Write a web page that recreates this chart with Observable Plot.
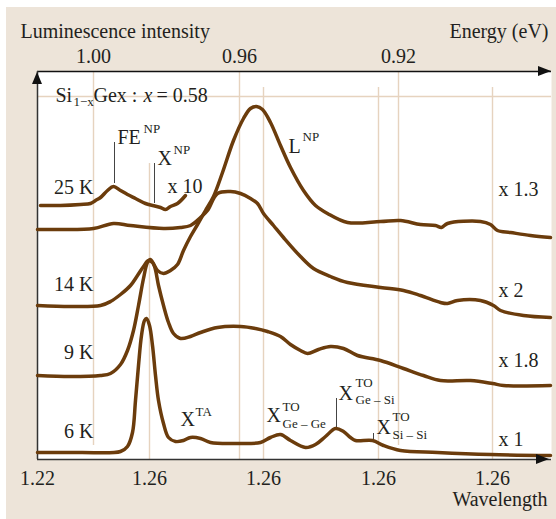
<!DOCTYPE html>
<html><head><meta charset="utf-8">
<script src="https://cdn.jsdelivr.net/npm/d3@7"></script>
<script src="https://cdn.jsdelivr.net/npm/@observablehq/plot@0.6"></script>
<style>
body{margin:0;background:#fff;}
#wrap{position:relative;width:556px;height:519px;overflow:hidden;}
#bg{position:absolute;left:6px;top:7px;width:550px;height:512px;background:#ede4d9;}
#chart{position:absolute;left:0;top:0;}
#chart svg text{font-family:"Liberation Serif","Times New Roman",serif !important;}
</style></head><body>
<div id="wrap"><div id="bg"></div><div id="chart"></div></div>
<script>
// Wavelength channel (arbitrary units) and luminescence intensity (arb. units)
const x6K  = [0,43,83,90,95,98,101,104,107,109,112,115,118,121,126,131,138,146,153,163,173,198,223,233,243,253,268,278,288,298,306,313,318,335,346,363,400,453,513];
const y6K  = [7,7,8,13,27,59,94,124,139,141,134,114,84,59,36,22,18,19,22,21,17,16,17,22,25,19,12,15,23,31,28,22,19,19,14,9,7,5,4];
const x9K  = [0,33,63,73,83,90,96,101,106,110,113,117,121,126,131,136,143,153,163,180,203,218,230,243,253,263,270,281,293,306,320,343,366,386,403,433,455,466,513];
const y9K  = [84,83,84,86,95,109,129,154,181,197,200,193,174,154,137,126,121,123,127,132,133,131,128,123,115,109,106,110,113,111,104,99,91,84,79,79,76,74,74];
const x14K = [0,33,63,73,83,93,100,106,111,115,120,126,133,140,146,153,160,168,176,185,196,206,213,219,225,233,243,253,266,278,290,310,343,363,383,398,404,410,443,453,460,473,493,513];
const y14K = [154,153,154,158,165,174,184,193,199,197,189,186,189,195,209,223,235,249,263,287,319,341,351,353,350,337,314,292,269,254,246,237,238,239,235,234,232,236,238,235,229,227,224,222];
const x25K = [0,23,56,76,93,126,143,153,163,170,180,193,203,213,220,226,236,246,263,276,293,310,343,366,383,403,410,420,443,456,463,486,513];
const y25K = [230,230,231,236,234,231,232,234,242,249,266,268,266,261,256,246,234,222,203,191,183,177,172,169,164,157,156,159,159,154,149,144,142];
const x25Kx10 = [3,23,43,53,58,63,70,76,83,90,98,108,115,123,128,133,140,148];
const y25Kx10 = [254,254,255,256,259,262,269,273,269,265,261,256,254,252,250,253,256,264];

const seriesNames = ["6 K","9 K","14 K","25 K","25 K x10"];
const seriesX = [x6K, x9K, x14K, x25K, x25Kx10];
const seriesY = [y6K, y9K, y14K, y25K, y25Kx10];

// Axis ticks
const bottomTicks = [0,112,226,341,455];
const bottomLabels = ["1.22","1.26","1.26","1.26","1.26"];
const topTicks = [56,202,361];
const topLabels = ["1.00","0.96","0.92"];

// Grid lines
const gridX = [56,112,202,226,341,361,455];
const gridTop = [388,296,388,372,372,388,372];
const gridBottom = [14,0,0,0,0,14,0];
const gridY = [363];

// Peak marker ticks
const markX = [77,117,299,336];
const markLow = [276,256,32,19];
const markHigh = [317,296,61,26];

// Text annotations
const mainText = ["25 K","14 K","9 K","6 K"];
const mainTextX = [56,56,56,56];
const mainTextY = [266,169,101,22];
const factorText = ["x 10","x 1.3","x 2","x 1.8","x 1"];
const factorX = [130,461,461,461,461];
const factorY = [267,264,163,93,14];
const peakText = ["FE","X","L","X","X","X","X"];
const peakX = [80,120,251,143,229,301,339];
const peakY = [316,295,307,34,38,60,26];
const supText = ["NP","NP","NP","TA","TO","TO","TO"];
const supX = [106,136,265,158,245,318,355];
const supY = [327,306,319,44,49,73,39];
const subText = ["Ge – Ge","Ge – Si","Si – Si"];
const subX = [245,318,355];
const subY = [32,56,21];

const brown = "#6b3c0c", tan = "#e6d3bf", ink = "#231f20";
const font = "Liberation Serif";

const rows = [];
seriesNames.forEach((s, k) => seriesX[k].forEach((x, i) => rows.push({series: s, x, y: seriesY[k][i]})));
const grid = gridX.map((x, i) => ({x, y1: gridBottom[i], y2: gridTop[i]}));
const marks = markX.map((x, i) => ({x, y1: markLow[i], y2: markHigh[i]}));
const zip = (t, xs, ys) => t.map((text, i) => ({text, x: xs[i], y: ys[i]}));
const bMap = new Map(bottomTicks.map((d, i) => [d, bottomLabels[i]]));
const tMap = new Map(topTicks.map((d, i) => [d, topLabels[i]]));

function arrowHeads(index, scales) {
  const ns = "http://www.w3.org/2000/svg";
  const g = document.createElementNS(ns, "g");
  const x0 = scales.x(0), x1 = scales.x(514), yT = scales.y(388), yB = scales.y(0);
  const tri = [
    [[x1, yT], [x1 - 13, yT - 5], [x1 - 13, yT + 5]],
    [[x1 - 2, yB], [x1 - 15, yB - 5], [x1 - 15, yB + 5]],
    [[x0, yT + 1], [x0 - 5, yT + 13], [x0 + 5, yT + 13]]
  ];
  for (const p of tri) {
    const el = document.createElementNS(ns, "polygon");
    el.setAttribute("points", p.map(q => q.join(",")).join(" "));
    el.setAttribute("fill", "#111");
    g.appendChild(el);
  }
  return g;
}

const txt = (data, opts) => Plot.text(data, {x: "x", y: "y", text: "text", fill: ink, fontFamily: font, lineAnchor: "bottom", ...opts});

const chart = Plot.plot({
  width: 556, height: 519,
  marginLeft: 37, marginRight: 5, marginTop: 71, marginBottom: 60,
  style: {background: "transparent", fontFamily: font, color: ink},
  x: {domain: [0, 514]},
  y: {domain: [0, 388], axis: null},
  marks: [
    Plot.frame({fill: "white", stroke: "none"}),
    Plot.ruleX(grid, {x: "x", y1: "y1", y2: "y2", stroke: tan, strokeWidth: 1.4}),
    Plot.ruleY(gridY, {stroke: tan, strokeWidth: 1.4}),
    Plot.ruleY([388], {stroke: "#111", strokeWidth: 1.5}),
    Plot.ruleY([0], {stroke: "#333", strokeWidth: 1.5}),
    Plot.ruleX([0], {stroke: "#333", strokeWidth: 1.5}),
    Plot.ruleX(marks, {x: "x", y1: "y1", y2: "y2", stroke: "#444", strokeWidth: 1}),
    Plot.line(rows, {x: "x", y: "y", z: "series", stroke: brown, strokeWidth: 3.5, curve: "catmull-rom", strokeLinejoin: "round"}),
    Plot.axisX({anchor: "bottom", ticks: bottomTicks, tickFormat: d => bMap.get(d), tickSize: 0, tickPadding: 11, fontSize: 20, fontFamily: font, fill: ink, label: null}),
    Plot.axisX({anchor: "top", ticks: topTicks, tickFormat: d => tMap.get(d), tickSize: 0, tickPadding: 9, fontSize: 20, fontFamily: font, fill: ink, label: null}),
    txt(zip(mainText, mainTextX, mainTextY), {textAnchor: "end", fontSize: 20}),
    txt(zip(factorText, factorX, factorY), {textAnchor: "start", fontSize: 20}),
    txt(zip(peakText, peakX, peakY), {textAnchor: "start", fontSize: 20}),
    txt(zip(supText, supX, supY), {textAnchor: "start", fontSize: 13}),
    txt(zip(subText, subX, subY), {textAnchor: "start", fontSize: 13}),
    txt([{text: "Si", x: 18, y: 358}, {text: "Gex :", x: 56, y: 358}, {text: "= 0.58", x: 119, y: 358}], {textAnchor: "start", fontSize: 20}),
    txt([{text: "1−x", x: 36, y: 354}], {textAnchor: "start", fontSize: 13}),
    txt([{text: "x", x: 106, y: 358}], {textAnchor: "start", fontSize: 20, fontStyle: "italic"}),
    txt([{text: "Luminescence intensity", x: -17, y: 422}], {textAnchor: "start", fontSize: 20}),
    txt([{text: "Energy (eV)", x: 511, y: 422}], {textAnchor: "end", fontSize: 20}),
    txt([{text: "Wavelength", x: 510, y: -46}], {textAnchor: "end", fontSize: 20}),
    arrowHeads
  ]
});
document.getElementById("chart").appendChild(chart);
</script>
</body></html>
